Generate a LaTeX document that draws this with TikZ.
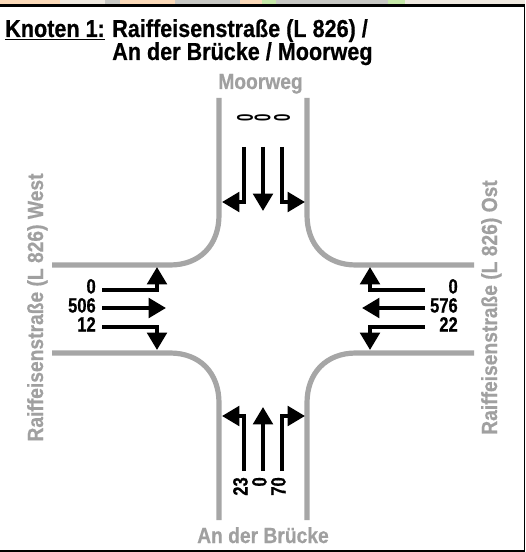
\documentclass[tikz,border=0pt]{standalone}
\usepackage{fontspec}
\setmainfont{Liberation Sans}
\newfontfamily\numfont[FakeStretch=0.8,FakeBold=0.6]{Liberation Sans}
\newfontfamily\labelfont[FakeStretch=0.88,FakeBold=0.5]{Liberation Sans}
\usetikzlibrary{arrows.meta}
\definecolor{roadgrey}{HTML}{A6A6A6}
\definecolor{labelgrey}{HTML}{A0A0A0}
\definecolor{mappeach}{HTML}{FBD9B8}
\definecolor{mapgrey}{HTML}{C8C8C4}
\definecolor{mapgreen}{HTML}{C6E8A8}
\definecolor{maplight}{HTML}{EFE9E0}
\tikzset{
  x=0.75pt,y=-0.75pt,
  road/.style={draw=roadgrey,line width=3.9pt,line cap=butt},
  flow/.style={draw=black,line width=3pt,line join=miter,
    -{Triangle[length=13pt,width=14.5pt,sep=0pt]}},
  title/.style={font=\labelfont\fontsize{18.4pt}{19pt}\selectfont\bfseries,inner sep=0pt,anchor=base west},
  streetlabel/.style={font=\labelfont\fontsize{16.4pt}{17pt}\selectfont\bfseries,text=labelgrey,inner sep=0pt,anchor=base},
  count/.style={font=\numfont\fontsize{15.5pt}{16pt}\selectfont\bfseries,inner sep=0pt,anchor=mid east},
  countup/.style={font=\numfont\fontsize{15.5pt}{16pt}\selectfont\bfseries,inner sep=0pt,rotate=90,anchor=mid east},
  flatzero/.style={font=\fontsize{17pt}{18pt}\selectfont\bfseries,inner sep=0pt,rotate=90,xscale=0.58,transform shape,anchor=center},
}
\begin{document}
\begin{tikzpicture}
\useasboundingbox (0,0) rectangle (525,552);
\fill[white] (0,0) rectangle (525,552);
% map remnant above the frame
\fill[maplight] (0,0) rectangle (525,3.6);
\fill[mappeach] (0,0) rectangle (60,3.6);
\fill[mapgrey] (105,0) rectangle (120,3.6);
\fill[mappeach] (120,0) rectangle (175,3.6);
\fill[mapgrey] (175,0) rectangle (240,3.6);
\fill[mappeach] (240,0) rectangle (262,3.6);
\fill[mapgreen] (262,0) rectangle (276,3.6);
\fill[mapgrey] (276,0) rectangle (388,3.6);
\fill[mapgreen] (388,0) rectangle (405,3.6);
% frame
\fill[black] (0,3.6) rectangle (525,7);
\fill[black] (523.5,3.6) rectangle (525,552);
\fill[black] (0,550) rectangle (525,552);
% road edges
\draw[road] (219,98) -- (219,215) .. controls (219,245) and (200,265) .. (170,265) -- (52,265);
\draw[road] (307,98) -- (307,215) .. controls (307,245) and (326,265) .. (356,265) -- (474,265);
\draw[road] (219,520) -- (219,403) .. controls (219,373) and (200,353) .. (170,353) -- (52,353);
\draw[road] (307,520) -- (307,403) .. controls (307,373) and (326,353) .. (356,353) -- (474,353);
% west approach
\draw[flow] (102,290) -| (157,267);
\draw[flow] (102,308) -- (166,308);
\draw[flow] (102,327) -| (157,350);
% east approach
\draw[flow] (425,290) -| (370,267);
\draw[flow] (425,308) -- (362,308);
\draw[flow] (425,327) -| (370,350);
% north approach
\draw[flow] (244,147) |- (222,202);
\draw[flow] (263,147) -- (263,211);
\draw[flow] (282,147) |- (305,202);
% south approach
\draw[flow] (244,471) |- (222,416);
\draw[flow] (263,471) -- (263,407);
\draw[flow] (282,471) |- (305,416);
% title
\node[title] (t1) at (5,37) {\underline{Knoten 1:}};
\node[title] (t2) at (112,37) {Raiffeisenstraße (L 826) /};
\node[title] (t3) at (112,60) {An der Brücke / Moorweg};
% street names
\node[streetlabel] (nN) at (260.5,89) {Moorweg};
\node[streetlabel] (nS) at (263,543) {An der Brücke};
\node[streetlabel,rotate=90] (nW) at (43,307.5) {Raiffeisenstraße (L 826) West};
\node[streetlabel,rotate=90] (nE) at (497,307.5) {Raiffeisenstraße (L 826) Ost};
% counts
\node[count] (w1) at (96,290) {0};
\node[count] (w2) at (96,309) {506};
\node[count] (w3) at (96,328) {12};
\node[count] (e1) at (458,290) {0};
\node[count] (e2) at (458,309) {576};
\node[count] (e3) at (458,328) {22};
\node[countup] (s1) at (244,477) {23};
\node[countup] (s2) at (263,477) {0};
\node[countup] (s3) at (282,477) {70};
\node[flatzero] (n1) at (245,118) {0};
\node[flatzero] (n2) at (262.5,118) {0};
\node[flatzero] (n3) at (282,118) {0};
\end{tikzpicture}
\end{document}
